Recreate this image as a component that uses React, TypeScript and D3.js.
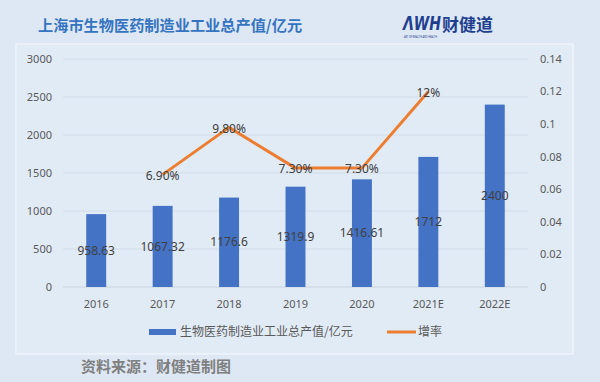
import React from "react";
import * as d3 from "d3";

const categories = ["2016", "2017", "2018", "2019", "2020", "2021E", "2022E"];
const outputValues = [958.63, 1067.32, 1176.6, 1319.9, 1416.61, 1712, 2400];
const outputLabels = ["958.63", "1067.32", "1176.6", "1319.9", "1416.61", "1712", "2400"];
const growthCats = ["2017", "2018", "2019", "2020", "2021E"];
const growthValues = [0.069, 0.098, 0.073, 0.073, 0.12];
const growthLabels = ["6.90%", "9.80%", "7.30%", "7.30%", "12%"];
const leftTicks = [0, 500, 1000, 1500, 2000, 2500, 3000];
const rightTicks = [0, 0.02, 0.04, 0.06, 0.08, 0.1, 0.12, 0.14];
const title = "上海市生物医药制造业工业总产值/亿元";
const barLegend = "生物医药制造业工业总产值/亿元";
const lineLegend = "增率";
const source = "资料来源：财健道制图";

const CJK = "'Noto Sans CJK SC', 'Noto Sans', sans-serif";
const NUM = "'Noto Sans', 'Open Sans', sans-serif";

export default function App() {
  const W = 600, H = 382;
  const x = d3.scaleBand<string>().domain(categories).range([63, 528]).paddingInner(0.7).paddingOuter(0.35);
  const yL = d3.scaleLinear().domain([0, 3000]).range([287, 59]);
  const yR = d3.scaleLinear().domain([0, 0.14]).range([287, 59]);
  const cx = (c: string) => (x(c) as number) + x.bandwidth() / 2;
  const line = d3.line<number>().x((_, i) => cx(growthCats[i])).y((d) => yR(d));
  const tickColor = "#595959";
  return (
    <svg width={W} height={H} style={{ position: "absolute", left: 0, top: 0 }}>
      <rect x={0} y={0} width={W} height={H} fill="#dde8f4" />
      <rect x={16} y={44} width={557} height={310} fill="#e1ebf6" stroke="#eef4fa" strokeWidth={1.5} />
      <text x={38} y={31} fontFamily={CJK} fontWeight="bold" fontSize={15.2} fill="#3574c0">{title}</text>
      <g>
        <text transform="translate(403,30) scale(1,1.35)" fontFamily="'DejaVu Sans', sans-serif" fontWeight="bold" fontStyle="italic" fontSize={14} fill="#1f3f8f">ΛWH</text>
        <text x={442} y={31} fontFamily={CJK} fontWeight="bold" fontSize={17} fill="#1f3f8f">财健道</text>
        <text x={404} y={38} fontFamily={NUM} fontSize={3} fill="#1f3f8f" textLength={33} lengthAdjust="spacingAndGlyphs">ART OF WEALTH AND HEALTH</text>
      </g>
      {leftTicks.map((t) => (
        <g key={"g" + t}>
          <line x1={63} x2={528} y1={yL(t)} y2={yL(t)} stroke={t === 0 ? "#c9d3de" : "#d3dde9"} strokeWidth={1} />
          <text x={52} y={yL(t)} dy="0.35em" textAnchor="end" fontFamily={NUM} fontSize={11} fill={tickColor}>{t}</text>
        </g>
      ))}
      {rightTicks.map((t) => (
        <text key={"r" + t} x={540} y={yR(t)} dy="0.35em" fontFamily={NUM} fontSize={11} fill={tickColor}>{String(+t.toFixed(2))}</text>
      ))}
      {categories.map((c) => (
        <text key={"x" + c} x={cx(c)} y={304} dy="0.35em" textAnchor="middle" fontFamily={NUM} fontSize={11} fill={tickColor}>{c}</text>
      ))}
      {categories.map((c, i) => (
        <rect key={"b" + c} x={x(c)} y={yL(outputValues[i])} width={x.bandwidth()} height={yL(0) - yL(outputValues[i])} fill="#4472c4" />
      ))}
      <path d={line(growthValues) || ""} fill="none" stroke="#ed7d31" strokeWidth={3} strokeLinejoin="round" />
      {categories.map((c, i) => (
        <text key={"bl" + c} x={cx(c)} y={(yL(outputValues[i]) + yL(0)) / 2} dy="0.35em" textAnchor="middle" fontFamily={NUM} fontSize={12} fill="#404040">{outputLabels[i]}</text>
      ))}
      {growthCats.map((c, i) => (
        <text key={"gl" + c} x={cx(c)} y={yR(growthValues[i]) + 1} dy="0.35em" textAnchor="middle" fontFamily={NUM} fontSize={12} fill="#404040">{growthLabels[i]}</text>
      ))}
      <rect x={149} y={329} width={27} height={6} fill="#4472c4" />
      <text x={180} y={332} dy="0.35em" fontFamily={CJK} fontSize={12} fill={tickColor}>{barLegend}</text>
      <line x1={387} x2={416} y1={332} y2={332} stroke="#ed7d31" strokeWidth={3} />
      <text x={418} y={332} dy="0.35em" fontFamily={CJK} fontSize={12} fill={tickColor}>{lineLegend}</text>
      <text x={81} y={367} dy="0.35em" fontFamily={CJK} fontWeight="bold" fontSize={15} fill="#7f7f7f">{source}</text>
    </svg>
  );
}
